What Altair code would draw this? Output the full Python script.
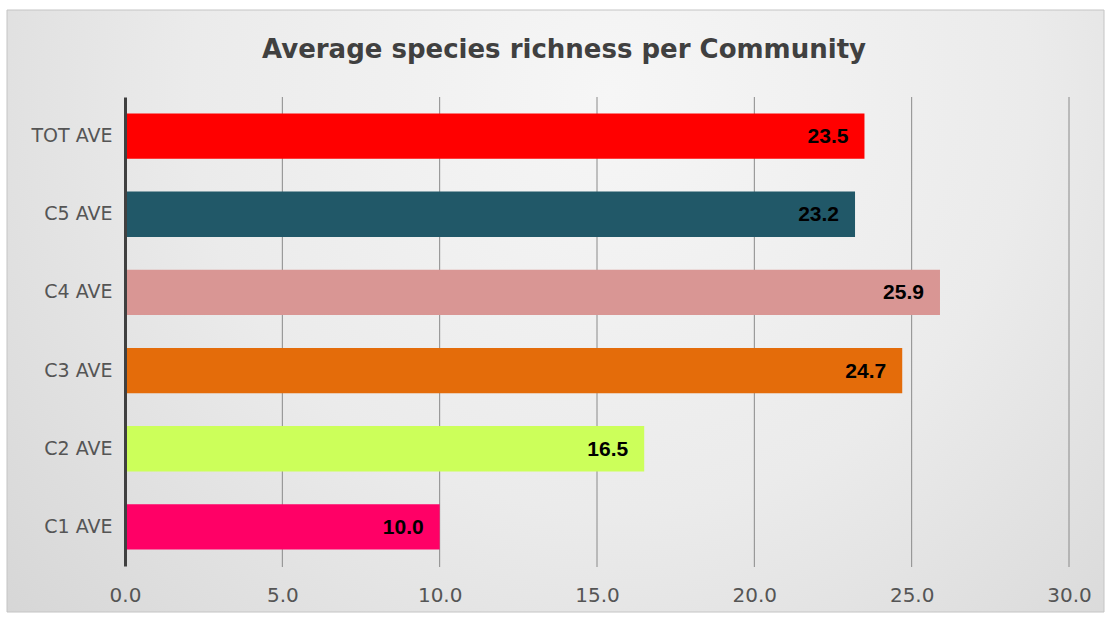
import altair as alt
import pandas as pd

categories = ["TOT AVE", "C5 AVE", "C4 AVE", "C3 AVE", "C2 AVE", "C1 AVE"]
values = [23.5, 23.2, 25.9, 24.7, 16.5, 10.0]
colors = ["#ff0000", "#215868", "#d99694", "#e46c0a", "#ccff5a", "#ff0066"]
x_ticks = [0, 5, 10, 15, 20, 25, 30]
title_text = "Average species richness per Community"

df = pd.DataFrame({"cat": categories, "val": values, "col": colors})
grid_df = pd.DataFrame({"t": x_ticks[1:]})

W, H = 944, 469

bg = alt.Chart(pd.DataFrame({"a": [0]})).mark_rect(
    fill={
        "gradient": "radial",
        "x1": 0.55, "y1": 0.3, "r1": 0.0,
        "x2": 0.55, "y2": 0.3, "r2": 0.85,
        "stops": [
            {"offset": 0.0, "color": "#f6f6f6"},
            {"offset": 0.45, "color": "#ebebeb"},
            {"offset": 1.0, "color": "#cfcfcf"},
        ],
    },
    stroke="#c4c4c4",
    strokeWidth=1,
).encode(
    x=alt.value(-118), x2=alt.value(979),
    y=alt.value(-87), y2=alt.value(515),
)

title = alt.Chart(pd.DataFrame({"t": [title_text]})).mark_text(
    font="DejaVu Sans", fontSize=26, fontWeight="bold", color="#404040",
    align="center", baseline="alphabetic",
).encode(x=alt.value(439), y=alt.value(-39), text="t:N")

x_scale = alt.Scale(domain=[0, 30], nice=False)

grid = alt.Chart(grid_df).mark_rule(color="#8a8a8a", strokeWidth=1).encode(
    x=alt.X("t:Q", scale=x_scale),
    y=alt.value(0), y2=alt.value(H + 1),
)

y_enc = alt.Y(
    "cat:N", sort=categories, title=None,
    scale=alt.Scale(paddingInner=0.42, paddingOuter=0.21),
    axis=alt.Axis(
        ticks=False, domain=True, domainColor="#404040", domainWidth=3,
        labelFont="DejaVu Sans", labelFontSize=19, labelColor="#555555",
        labelPadding=13, grid=False, zindex=1,
    ),
)
x_enc = alt.X(
    "val:Q", title=None, scale=x_scale,
    axis=alt.Axis(
        values=x_ticks, format=".1f", domain=False, ticks=False,
        grid=False, labelFlush=False,
        labelFont="DejaVu Sans", labelFontSize=20, labelColor="#555555",
        labelPadding=19, zindex=1,
    ),
)

bars = alt.Chart(df).mark_bar().encode(
    x=x_enc, y=y_enc,
    color=alt.Color("col:N", scale=None),
)

labels = alt.Chart(df).mark_text(
    align="right", baseline="middle", dx=-16, dy=1,
    font="Liberation Sans", fontWeight="bold", fontSize=21, color="#000000",
).encode(
    x=alt.X("val:Q"), y=alt.Y("cat:N", sort=categories),
    text=alt.Text("val:Q", format=".1f"),
)

chart = alt.layer(bg, title, grid, bars, labels).properties(
    width=W, height=H,
    autosize=alt.AutoSizeParams(type="none"),
    padding={"left": 125, "top": 97, "right": 40, "bottom": 53},
    background="#ffffff",
).configure_view(stroke=None)

chart.save("out.html", embed_options={"renderer": "svg", "actions": False})
